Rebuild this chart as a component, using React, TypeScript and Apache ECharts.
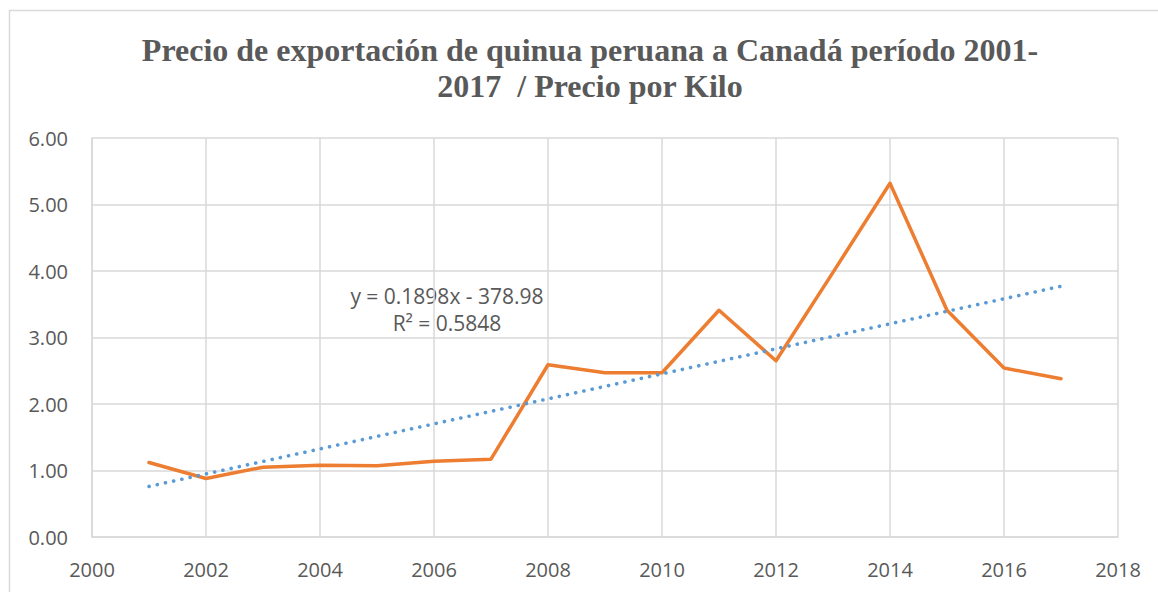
import React, { useEffect, useRef } from "react";
import * as echarts from "echarts";

const years = [2001, 2002, 2003, 2004, 2005, 2006, 2007, 2008, 2009, 2010, 2011, 2012, 2013, 2014, 2015, 2016, 2017];
const prices = [1.12, 0.88, 1.05, 1.08, 1.07, 1.14, 1.17, 2.59, 2.47, 2.47, 3.41, 2.65, 3.98, 5.32, 3.41, 2.54, 2.38];
const trendYears = [2001, 2017];
const trendValues = [0.76, 3.77];
const titleLines = ["Precio de exportación de quinua peruana a Canadá período 2001-", "2017  / Precio por Kilo"];
const trendLabels = ["y = 0.1898x - 378.98", "R² = 0.5848"];

export default function App() {
  const ref = useRef<HTMLDivElement>(null);
  useEffect(() => {
    if (!ref.current) return;
    const chart = echarts.init(ref.current, undefined, { renderer: "svg" });
    const grey = "#595959";
    chart.setOption({
      animation: false,
      backgroundColor: "#ffffff",
      grid: { left: 92, right: 40, top: 138, bottom: 55, containLabel: false },
      xAxis: {
        type: "value",
        min: 2000,
        max: 2018,
        interval: 2,
        axisLine: { show: true, lineStyle: { color: "#d9d9d9", width: 1.5 } },
        axisTick: { show: false },
        splitLine: { show: true, lineStyle: { color: "#d9d9d9", width: 1.5 } },
        axisLabel: { color: grey, fontSize: 20, fontFamily: "Open Sans", margin: 22, formatter: (v: number) => String(v) },
      },
      yAxis: {
        type: "value",
        min: 0,
        max: 6,
        interval: 1,
        axisLine: { show: true, lineStyle: { color: "#d9d9d9", width: 1.5 } },
        axisTick: { show: false },
        splitLine: { show: true, lineStyle: { color: "#d9d9d9", width: 1.5 } },
        axisLabel: { color: grey, fontSize: 20, fontFamily: "Open Sans", margin: 24, formatter: (v: number) => v.toFixed(2) },
      },
      series: [
        {
          type: "line",
          data: years.map((y, i) => [y, prices[i]]),
          symbol: "none",
          lineStyle: { color: "#ed7d31", width: 3.5, cap: "round", join: "round" },
          z: 2,
        },
        {
          type: "line",
          data: trendYears.map((y, i) => [y, trendValues[i]]),
          symbol: "none",
          lineStyle: { color: "#5b9bd5", width: 3.6, type: [0.1, 8.3], cap: "round" },
          z: 3,
        },
      ],
      graphic: [
        {
          type: "rect",
          shape: { x: 9.5, y: 10.5, width: 1300, height: 800 },
          style: { fill: "none", stroke: "#d9d9d9", lineWidth: 1.5 },
          silent: true,
        },
        {
          type: "text",
          x: 590,
          y: 50,
          style: { text: titleLines[0], fill: grey, font: "bold 32px 'Liberation Serif'", textAlign: "center", textVerticalAlign: "middle" },
        },
        {
          type: "text",
          x: 590,
          y: 86,
          style: { text: titleLines[1], fill: grey, font: "bold 32px 'Liberation Serif'", textAlign: "center", textVerticalAlign: "middle" },
        },
        {
          type: "text",
          x: 447,
          y: 296,
          style: { text: trendLabels[0], fill: grey, font: "21px 'Open Sans'", textAlign: "center", textVerticalAlign: "middle" },
        },
        {
          type: "text",
          x: 447,
          y: 323,
          style: { text: trendLabels[1], fill: grey, font: "21px 'Open Sans'", textAlign: "center", textVerticalAlign: "middle" },
        },
      ],
    });
    return () => chart.dispose();
  }, []);
  return <div ref={ref} style={{ position: "fixed", left: 0, top: 0, width: 1158, height: 592 }} />;
}
